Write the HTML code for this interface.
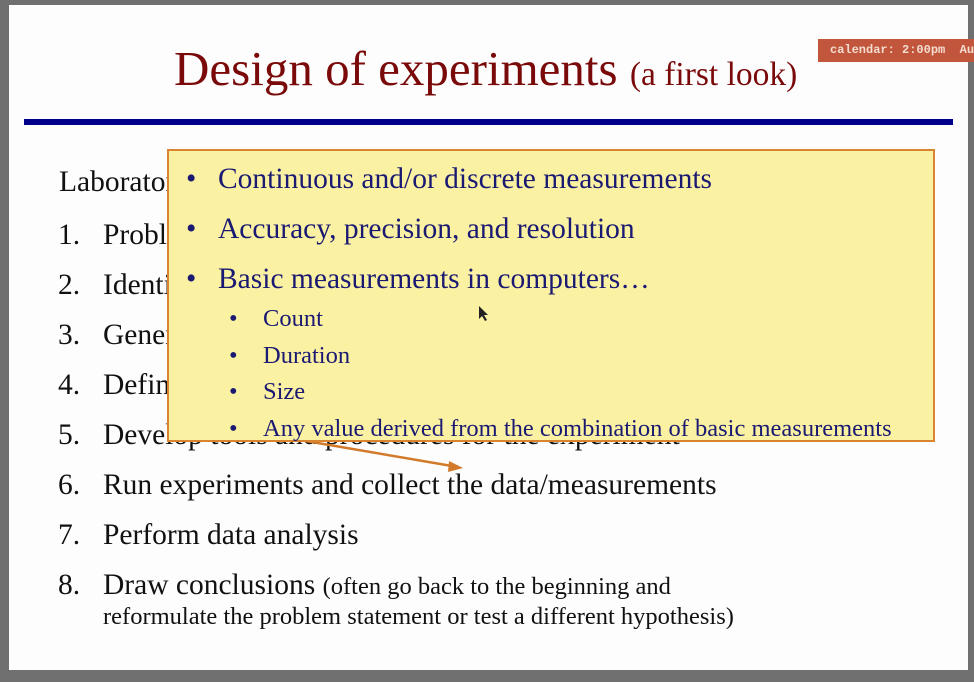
<!DOCTYPE html>
<html><head><meta charset="utf-8"><style>
body{margin:0;width:974px;height:682px;background:#707070;position:relative;overflow:hidden;font-family:"Liberation Serif",serif}
.slide{position:absolute;left:9px;top:5px;width:959px;height:665px;background:#fdfdfd}
.abs{position:absolute;white-space:nowrap}
.t{font-size:29.5px;color:#111}
.b{font-size:29.5px;color:#1a1a72}
.s{font-size:24.5px;color:#1a1a72}
</style></head><body>
<div class="slide"></div>
<div class="abs" style="left:174px;top:40px;font-size:49px;color:#7a0a0a">Design of experiments <span style="font-size:33.5px">(a first look)</span></div>
<div class="abs" style="left:818px;top:39px;width:160px;height:23px;background:#c1563c;color:#f4ddd0;font:bold 12px 'Liberation Mono',monospace;line-height:23px;padding-left:12px;box-sizing:border-box;white-space:pre">calendar: 2:00pm  Au</div>
<div class="abs" style="left:24px;top:119px;width:929px;height:6px;background:#00008b"></div>
<div class="abs t" style="left:59px;top:166px">Laboratory</div>
<div>
<div class="abs t" style="left:58px;top:219px">1.</div><div class="abs t" style="left:103px;top:219px">Problem</div>
<div class="abs t" style="left:58px;top:269px">2.</div><div class="abs t" style="left:103px;top:269px">Identify</div>
<div class="abs t" style="left:58px;top:319px">3.</div><div class="abs t" style="left:103px;top:319px">Generate</div>
<div class="abs t" style="left:58px;top:369px">4.</div><div class="abs t" style="left:103px;top:369px">Define</div>
<div class="abs t" style="left:58px;top:419px">5.</div><div class="abs t" style="left:103px;top:419px">Develop tools and procedures for the experiment</div>
<div class="abs t" style="left:58px;top:469px">6.</div><div class="abs t" style="left:103px;top:469px">Run experiments and collect the data/measurements</div>
<div class="abs t" style="left:58px;top:519px">7.</div><div class="abs t" style="left:103px;top:519px">Perform data analysis</div>
<div class="abs t" style="left:58px;top:569px">8.</div><div class="abs t" style="left:103px;top:569px">Draw conclusions <span style="font-size:24.5px">(often go back to the beginning and</span></div>
<div class="abs" style="left:103px;top:603px;font-size:24.5px;color:#111">reformulate the problem statement or test a different hypothesis)</div>
</div>
<svg class="abs" style="left:0;top:0" width="974" height="682"><line x1="300" y1="440" x2="452" y2="466" stroke="#d27a2a" stroke-width="2.5"/><polygon points="463,468 449,461 448,472" fill="#d27a2a"/></svg>
<div class="abs" style="left:167px;top:149px;width:768px;height:293px;box-sizing:border-box;background:#fbf1a3;border:2px solid #d9842e"></div>
<div>
<div class="abs b" style="left:186px;top:163px">•</div><div class="abs b" style="left:218px;top:163px">Continuous and/or discrete measurements</div>
<div class="abs b" style="left:186px;top:213px">•</div><div class="abs b" style="left:218px;top:213px">Accuracy, precision, and resolution</div>
<div class="abs b" style="left:186px;top:263px">•</div><div class="abs b" style="left:218px;top:263px">Basic measurements in computers…</div>
<div class="abs s" style="left:229px;top:305px">•</div><div class="abs s" style="left:263px;top:305px">Count</div>
<div class="abs s" style="left:229px;top:342px">•</div><div class="abs s" style="left:263px;top:342px">Duration</div>
<div class="abs s" style="left:229px;top:378px">•</div><div class="abs s" style="left:263px;top:378px">Size</div>
<div class="abs s" style="left:229px;top:415px">•</div><div class="abs s" style="left:263px;top:415px">Any value derived from the combination of basic measurements</div>
</div>
<svg class="abs" style="left:478px;top:305px" width="12" height="18"><polygon points="1,1 1,14 4,11 7,16 9,15 6,10 10,10" fill="#222"/></svg>
</body></html>
